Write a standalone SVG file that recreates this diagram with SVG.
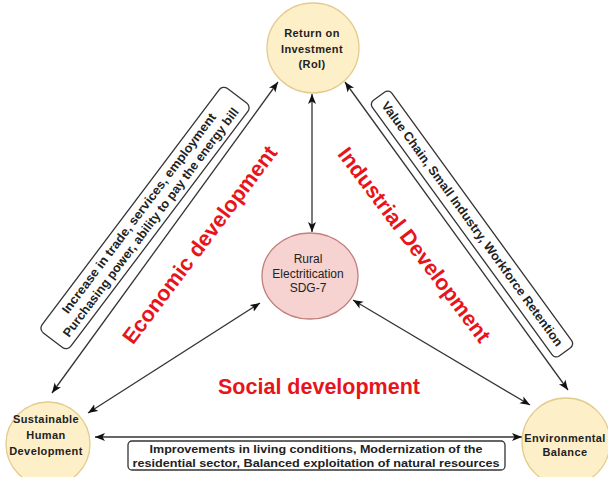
<svg xmlns="http://www.w3.org/2000/svg" width="608" height="477" viewBox="0 0 608 477">
<style>
.node{fill:#FDF0C9;stroke:#E3CB8C;stroke-width:1.3}
.pink{fill:#F6D2D1;stroke:#C0807C;stroke-width:1.3}
.nt{font-family:"Liberation Sans",Arial,sans-serif;font-size:11px;font-weight:bold;fill:#222;text-anchor:middle;dominant-baseline:central;letter-spacing:0.4px}
.ct{font-family:"Liberation Sans",Arial,sans-serif;font-size:12px;fill:#222;text-anchor:middle;dominant-baseline:central}
.red{font-family:"Liberation Sans",Arial,sans-serif;font-size:21.5px;font-weight:bold;fill:#E8141B;text-anchor:middle;dominant-baseline:central}
.bt{font-family:"Liberation Sans",Arial,sans-serif;font-size:12.5px;font-weight:bold;fill:#222;text-anchor:middle;dominant-baseline:central}
.box{fill:#fff;stroke:#333;stroke-width:1.3}
.con{stroke:#333;stroke-width:1.3;fill:none;marker-start:url(#arr);marker-end:url(#arr)}
</style>
<defs>
<marker id="arr" markerUnits="userSpaceOnUse" markerWidth="12" markerHeight="10" refX="10" refY="4" orient="auto-start-reverse">
<path d="M0,0 L10,4 L0,8 L2.5,4 z" fill="#111"/>
</marker>
</defs>
<rect width="608" height="477" fill="#fff"/>
<g id="connectors">
<line class="con" x1="312" y1="94" x2="312" y2="232"/>
<line class="con" x1="52" y1="393" x2="278" y2="82"/>
<line class="con" x1="345" y1="82" x2="568" y2="390"/>
<line class="con" x1="260" y1="303" x2="88" y2="413"/>
<line class="con" x1="353" y1="300" x2="530" y2="405"/>
<line class="con" x1="95" y1="437" x2="522" y2="437"/>
</g>
<g id="label-economic-box" transform="translate(145,218) rotate(-53)">
<rect class="box" x="-153" y="-18" width="306" height="36" rx="6"/>
<text class="bt" x="0" y="-7.5" textLength="247" lengthAdjust="spacingAndGlyphs">Increase in trade, services, employment</text>
<text class="bt" x="0" y="7.5" textLength="283" lengthAdjust="spacingAndGlyphs">Purchasing power, ability to pay the energy bill</text>
</g>
<g id="label-industrial-box" transform="translate(472,224) rotate(54)">
<rect class="box" x="-158" y="-12" width="316" height="24" rx="5"/>
<text class="bt" x="0" y="0" textLength="299" lengthAdjust="spacingAndGlyphs">Value Chain, Small Industry, Workforce Retention</text>
</g>
<g id="label-social-box">
<rect class="box" x="128" y="441" width="377" height="29" rx="4"/>
<text class="bt" style="font-size:11.5px" x="316" y="449" textLength="333" lengthAdjust="spacingAndGlyphs">Improvements in living conditions, Modernization of the</text>
<text class="bt" style="font-size:11.5px" x="316" y="463" textLength="367" lengthAdjust="spacingAndGlyphs">residential sector, Balanced exploitation of natural resources</text>
</g>
<g id="title-economic"><text class="red" transform="translate(200,245) rotate(-53)">Economic development</text></g>
<g id="title-industrial"><text class="red" transform="translate(414,245) rotate(53)">Industrial Development</text></g>
<g id="title-social"><text class="red" x="319" y="387">Social development</text></g>
<g id="node-roi">
<ellipse class="node" cx="313" cy="48" rx="46" ry="45"/>
<text class="nt" x="312" y="33">Return on</text>
<text class="nt" x="312" y="49">Investment</text>
<text class="nt" x="312" y="64">(RoI)</text>
</g>
<g id="node-rural">
<ellipse class="pink" cx="310" cy="276" rx="48" ry="43"/>
<text class="ct" x="308" y="259">Rural</text>
<text class="ct" x="308" y="274">Electritication</text>
<text class="ct" x="308" y="288">SDG-7</text>
</g>
<g id="node-human">
<circle class="node" cx="48" cy="444" r="42"/>
<text class="nt" x="46" y="419">Sustainable</text>
<text class="nt" x="46" y="435">Human</text>
<text class="nt" x="46" y="451">Development</text>
</g>
<g id="node-env">
<circle class="node" cx="566" cy="442" r="44"/>
<text class="nt" x="565" y="438">Environmental</text>
<text class="nt" x="565" y="452">Balance</text>
</g>
</svg>
